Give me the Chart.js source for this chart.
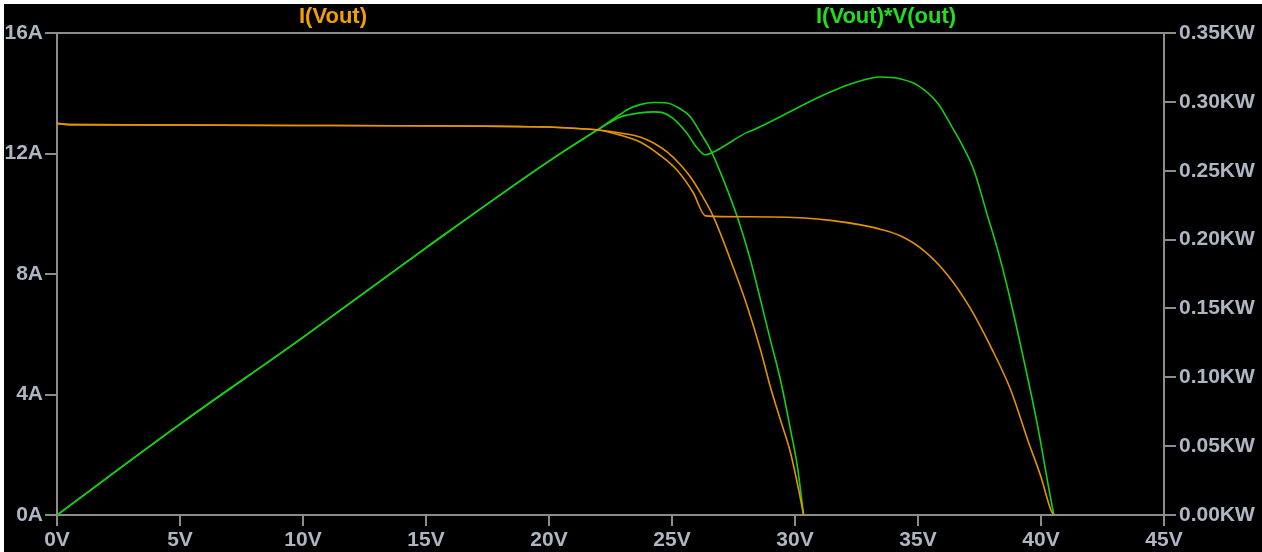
<!DOCTYPE html>
<html lang="en">
<head>
  <meta charset="UTF-8" />
  <title>I(Vout) and power vs V(out)</title>
  <script src="https://cdn.jsdelivr.net/npm/chart.js"></script>
  <style>
    body {
      margin: 0;
      background: #ffffff;
    }
    /* plot window, sits 4px in from the top and left like the screenshot */
    .plot {
      position: absolute;
      left: 4px;
      top: 4px;
      width: 1258px;
      height: 548px;
      background: #000000;
    }
  </style>
</head>
<body>
  <div class="plot"><canvas id="ivChart"></canvas></div>

  <script>
    // x axis ticks (volts)
    const voltTicks = [0, 5, 10, 15, 20, 25, 30, 35, 40, 45];

    // sweep A: current, open circuit near 30.3V
    const voltsA = [0, 0.5, 10.5, 20, 21.3, 22, 22.9, 23.7, 24.25, 24.8, 25.35, 25.75, 26.16, 26.69, 27.5, 28.07, 28.6, 29.0, 29.41, 29.82, 30.15, 30.35];
    const ampsA  = [13.0, 12.96, 12.93, 12.88, 12.82, 12.78, 12.68, 12.55, 12.35, 12.05, 11.62, 11.22, 10.69, 9.89, 8.2, 6.9, 5.48, 4.25, 3.15, 2.06, 0.83, 0];

    // sweep B: current, bypass step near 26.3V, open circuit near 40.5V
    const voltsB = [0, 0.5, 10.5, 20, 21.3, 22, 22.9, 23.7, 24.5, 25.2, 25.87, 26.36, 28.0, 30.4, 31.45, 32.67, 33.5, 34.3, 35.2, 36.2, 37.1, 37.96, 38.77, 39.46, 40.0, 40.4, 40.52];
    const ampsB  = [13.0, 12.96, 12.93, 12.88, 12.82, 12.78, 12.61, 12.38, 11.95, 11.45, 10.69, 9.93, 9.9, 9.86, 9.78, 9.63, 9.48, 9.26, 8.8, 7.97, 6.9, 5.58, 4.15, 2.49, 1.26, 0.17, 0];

    // sweep A: power I(Vout)*V(out) in KW
    const pVoltsA = [0, 5, 10, 15, 20, 22, 22.9, 23.2, 23.7, 24.25, 24.8, 25.2, 25.75, 26.16, 26.57, 27.1, 27.7, 28.19, 28.6, 29.0, 29.41, 29.82, 30.1, 30.35];
    const kwA     = [0, 0.066, 0.129, 0.194, 0.257, 0.280, 0.291, 0.2945, 0.298, 0.2995, 0.2992, 0.2963, 0.289, 0.2774, 0.265, 0.243, 0.214, 0.185, 0.156, 0.127, 0.098, 0.0617, 0.035, 0];

    // sweep B: power in KW
    const pVoltsB = [0, 5, 10, 15, 20, 22, 22.9, 23.2, 23.7, 24.25, 24.65, 25.04, 25.6, 26.0, 26.36, 26.69, 28.07, 28.3, 31.16, 32.26, 33.48, 34.3, 34.99, 35.8, 36.45, 36.74, 37.27, 37.84, 38.24, 38.69, 39.3, 39.87, 40.28, 40.52];
    const kwB     = [0, 0.066, 0.129, 0.194, 0.257, 0.280, 0.289, 0.2905, 0.292, 0.2927, 0.292, 0.288, 0.2774, 0.267, 0.2614, 0.2636, 0.278, 0.2796, 0.305, 0.313, 0.318, 0.3166, 0.312, 0.299, 0.2796, 0.2705, 0.2505, 0.2164, 0.1925, 0.161, 0.1126, 0.064, 0.023, 0];

    const ORANGE = '#e39300';
    const GREEN = '#14d014';
    const AXIS = '#8c8c8c';
    const LABEL = '#aeb6c4';
    const FONT = { family: "'Liberation Sans', Arial, sans-serif", size: 21, weight: 'bold' };

    function pairs(xs, ys) {
      return xs.map((x, i) => ({ x: x, y: ys[i] }));
    }

    // black plot background, top frame line and the trace names
    const plotDecor = {
      id: 'plotDecor',
      beforeDraw(chart) {
        const ctx = chart.ctx;
        ctx.save();
        ctx.fillStyle = '#000000';
        ctx.fillRect(0, 0, chart.width, chart.height);
        ctx.restore();
      },
      afterDraw(chart) {
        const ctx = chart.ctx;
        const a = chart.chartArea;
        ctx.save();
        ctx.strokeStyle = AXIS;
        ctx.lineWidth = 2;
        ctx.beginPath();
        ctx.moveTo(a.left, a.top);
        ctx.lineTo(a.right, a.top);
        ctx.stroke();

        ctx.font = "bold 22px 'Liberation Sans', Arial, sans-serif";
        ctx.textAlign = 'center';
        ctx.textBaseline = 'middle';
        ctx.fillStyle = '#f0a000';
        ctx.fillText('I(Vout)', 329, 13);
        ctx.fillStyle = '#22dd22';
        ctx.fillText('I(Vout)*V(out)', 882, 13);
        ctx.restore();
      }
    };

    const lineStyle = { showLine: true, pointRadius: 0, borderWidth: 1.6, cubicInterpolationMode: 'monotone', fill: false };

    new Chart(document.getElementById('ivChart'), {
      type: 'scatter',
      data: {
        datasets: [
          Object.assign({ label: 'I(Vout) A', data: pairs(voltsA, ampsA), borderColor: ORANGE, yAxisID: 'y' }, lineStyle),
          Object.assign({ label: 'I(Vout) B', data: pairs(voltsB, ampsB), borderColor: ORANGE, yAxisID: 'y' }, lineStyle),
          Object.assign({ label: 'I(Vout)*V(out) A', data: pairs(pVoltsA, kwA), borderColor: GREEN, yAxisID: 'y1' }, lineStyle),
          Object.assign({ label: 'I(Vout)*V(out) B', data: pairs(pVoltsB, kwB), borderColor: GREEN, yAxisID: 'y1' }, lineStyle)
        ]
      },
      options: {
        responsive: true,
        maintainAspectRatio: false,
        animation: false,
        layout: { padding: { top: 29, left: 0, right: 0, bottom: 0 } },
        plugins: {
          legend: { display: false },
          tooltip: { enabled: false }
        },
        scales: {
          x: {
            type: 'linear',
            min: 0,
            max: 45,
            afterBuildTicks(scale) {
              scale.ticks = voltTicks.map(v => ({ value: v }));
            },
            afterFit(scale) { scale.height = 37; },
            ticks: {
              color: LABEL,
              font: FONT,
              padding: 2,
              autoSkip: false,
              maxRotation: 0,
              callback: v => v + 'V'
            },
            grid: { drawOnChartArea: false, tickLength: 11, color: AXIS, lineWidth: 2 },
            border: { color: AXIS, width: 2 }
          },
          y: {
            position: 'left',
            min: 0,
            max: 16,
            afterFit(scale) { scale.width = 53; },
            ticks: {
              stepSize: 4,
              color: LABEL,
              font: FONT,
              padding: 2,
              callback: v => v + 'A'
            },
            grid: { drawOnChartArea: false, tickLength: 12, color: AXIS, lineWidth: 2 },
            border: { color: AXIS, width: 2 }
          },
          y1: {
            position: 'right',
            min: 0,
            max: 0.35,
            afterFit(scale) { scale.width = 98; },
            ticks: {
              stepSize: 0.05,
              color: LABEL,
              font: FONT,
              padding: 3,
              callback: v => v.toFixed(2) + 'KW'
            },
            grid: { drawOnChartArea: false, tickLength: 12, color: AXIS, lineWidth: 2 },
            border: { color: AXIS, width: 2 }
          }
        }
      },
      plugins: [plotDecor]
    });
  </script>
</body>
</html>
